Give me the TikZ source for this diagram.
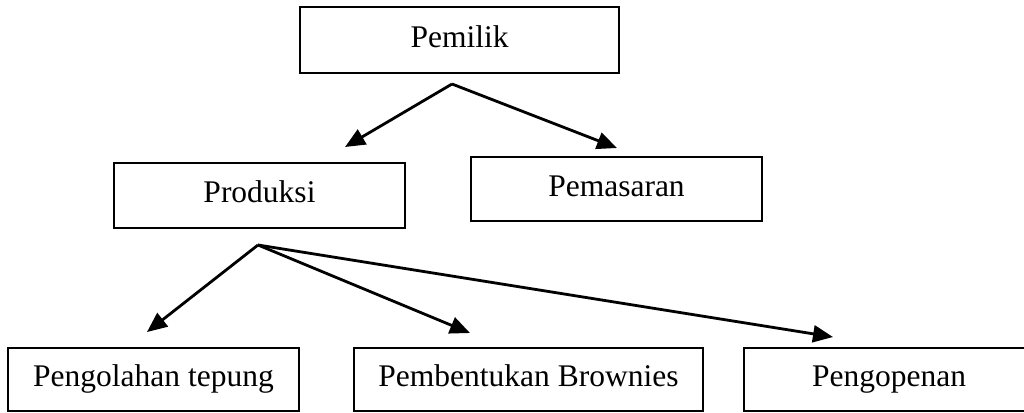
\documentclass[tikz,border=0pt]{standalone}
\usepackage{fontspec}
\setmainfont{Liberation Serif}
\usetikzlibrary{arrows.meta}
\begin{document}
\begin{tikzpicture}[x=1pt,y=-1pt,
  box/.style={draw,line width=2pt,inner sep=0pt,text height=21.5pt,text depth=7pt,
    font=\fontsize{31.5}{36}\selectfont},
  conn/.style={line width=2.8pt,-{Triangle[length=20pt,width=17pt]}}]
\useasboundingbox (0,0) rectangle (1024,412);
\fill[white] (0,0) rectangle (1024,412);
\node[box,minimum width=319pt,minimum height=66pt] (pemilik) at (459.5,40) {Pemilik};
\node[box,minimum width=291pt,minimum height=65pt] (produksi) at (259.5,195.5) {Produksi};
\node[box,minimum width=291pt,minimum height=64pt] (pemasaran) at (616.5,189) {Pemasaran};
\node[box,minimum width=291pt,minimum height=63pt] (olah) at (153.5,379.5) {Pengolahan tepung};
\node[box,minimum width=349pt,minimum height=63pt] (bentuk) at (528.5,379.5) {Pembentukan Brownies};
\node[box,minimum width=310pt,minimum height=63pt] (open) at (899,379.5) {\hspace*{-20pt}Pengopenan};
\coordinate (s1) at (452,84);
\coordinate (t1) at (345,147);
\coordinate (t2) at (617,148);
\coordinate (s2) at (258,245);
\coordinate (t3) at (147,332);
\coordinate (t4) at (470,333);
\coordinate (t5) at (833,337);
\draw[conn] (s1) -- (t1);
\draw[conn] (s1) -- (t2);
\draw[conn] (s2) -- (t3);
\draw[conn] (s2) -- (t4);
\draw[conn] (s2) -- (t5);
\end{tikzpicture}
\end{document}
